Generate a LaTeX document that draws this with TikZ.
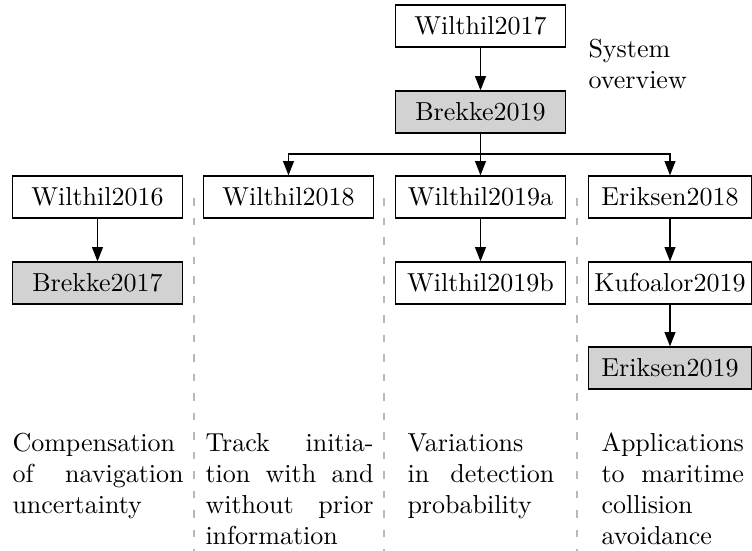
\documentclass[tikz,border=0pt]{standalone}
\usetikzlibrary{arrows.meta}
\begin{document}
\begin{tikzpicture}[x=0.384615pt,y=-0.384615pt,
  box/.style={draw, line width=0.5pt, minimum width=65.4pt, minimum height=16.15pt, inner sep=2pt},
  rbox/.style={box, minimum width=62.7pt},
  shaded/.style={fill=gray!35},
  arr/.style={line width=0.5pt, -{Triangle[length=5.5pt,width=4.2pt]}},
  sepline/.style={gray!55, line width=0.45pt, dash pattern=on 3pt off 4.5pt},
  desc/.style={anchor=north west, inner sep=0pt, align=left}]
\useasboundingbox (0,0) rectangle (752,551);
% separators
\draw[sepline] (194,198) -- (194,551);
\draw[sepline] (384,198) -- (384,551);
\draw[sepline] (577,198) -- (577,551);
% nodes
\node[box] (w17) at (480.5,26) {Wilthil2017};
\node[box,shaded] (b19) at (480.5,112) {Brekke2019};
\node[box] (w16) at (97.5,197) {Wilthil2016};
\node[box,shaded] (b17) at (97.5,283) {Brekke2017};
\node[box] (w18) at (288.5,197) {Wilthil2018};
\node[box] (w19a) at (480.5,197) {Wilthil2019a};
\node[box] (w19b) at (480.5,283) {Wilthil2019b};
\node[rbox] (e18) at (670,197) {Eriksen2018};
\node[rbox] (k19) at (670,283) {Kufoalor2019};
\node[rbox,shaded] (e19) at (670,368) {Eriksen2019};
\coordinate (br) at (480.5,154);
% connectors
\draw[arr] (w17) -- (b19);
\draw[arr] (b19) -- (w19a);
\draw[arr] (br) -| (w18.north);
\draw[arr] (br) -| (e18.north);
\draw[arr] (w16) -- (b17);
\draw[arr] (w19a) -- (w19b);
\draw[arr] (e18) -- (k19);
\draw[arr] (k19) -- (e19);
% texts
\node[desc] (sys) at (588,35) {\strut System\\\strut overview};
\node[desc] (t1) at (12,429) {\strut Compensation\\
  \strut\makebox[65.8pt][s]{of navigation}\\
  \strut uncertainty};
\node[desc] (t2) at (205,429) {\strut\makebox[64.6pt][s]{Track initia-}\\
  \strut\makebox[64.6pt][s]{tion with and}\\
  \strut\makebox[64.6pt][s]{without prior}\\
  \strut information};
\node[desc] (t3) at (407,429) {\strut Variations\\
  \strut\makebox[56.5pt][s]{in detection}\\
  \strut probability};
\node[desc] (t4) at (601,429) {\strut Applications\\
  \strut\makebox[54.8pt][s]{to maritime}\\
  \strut collision\\
  \strut avoidance};
\end{tikzpicture}
\end{document}
